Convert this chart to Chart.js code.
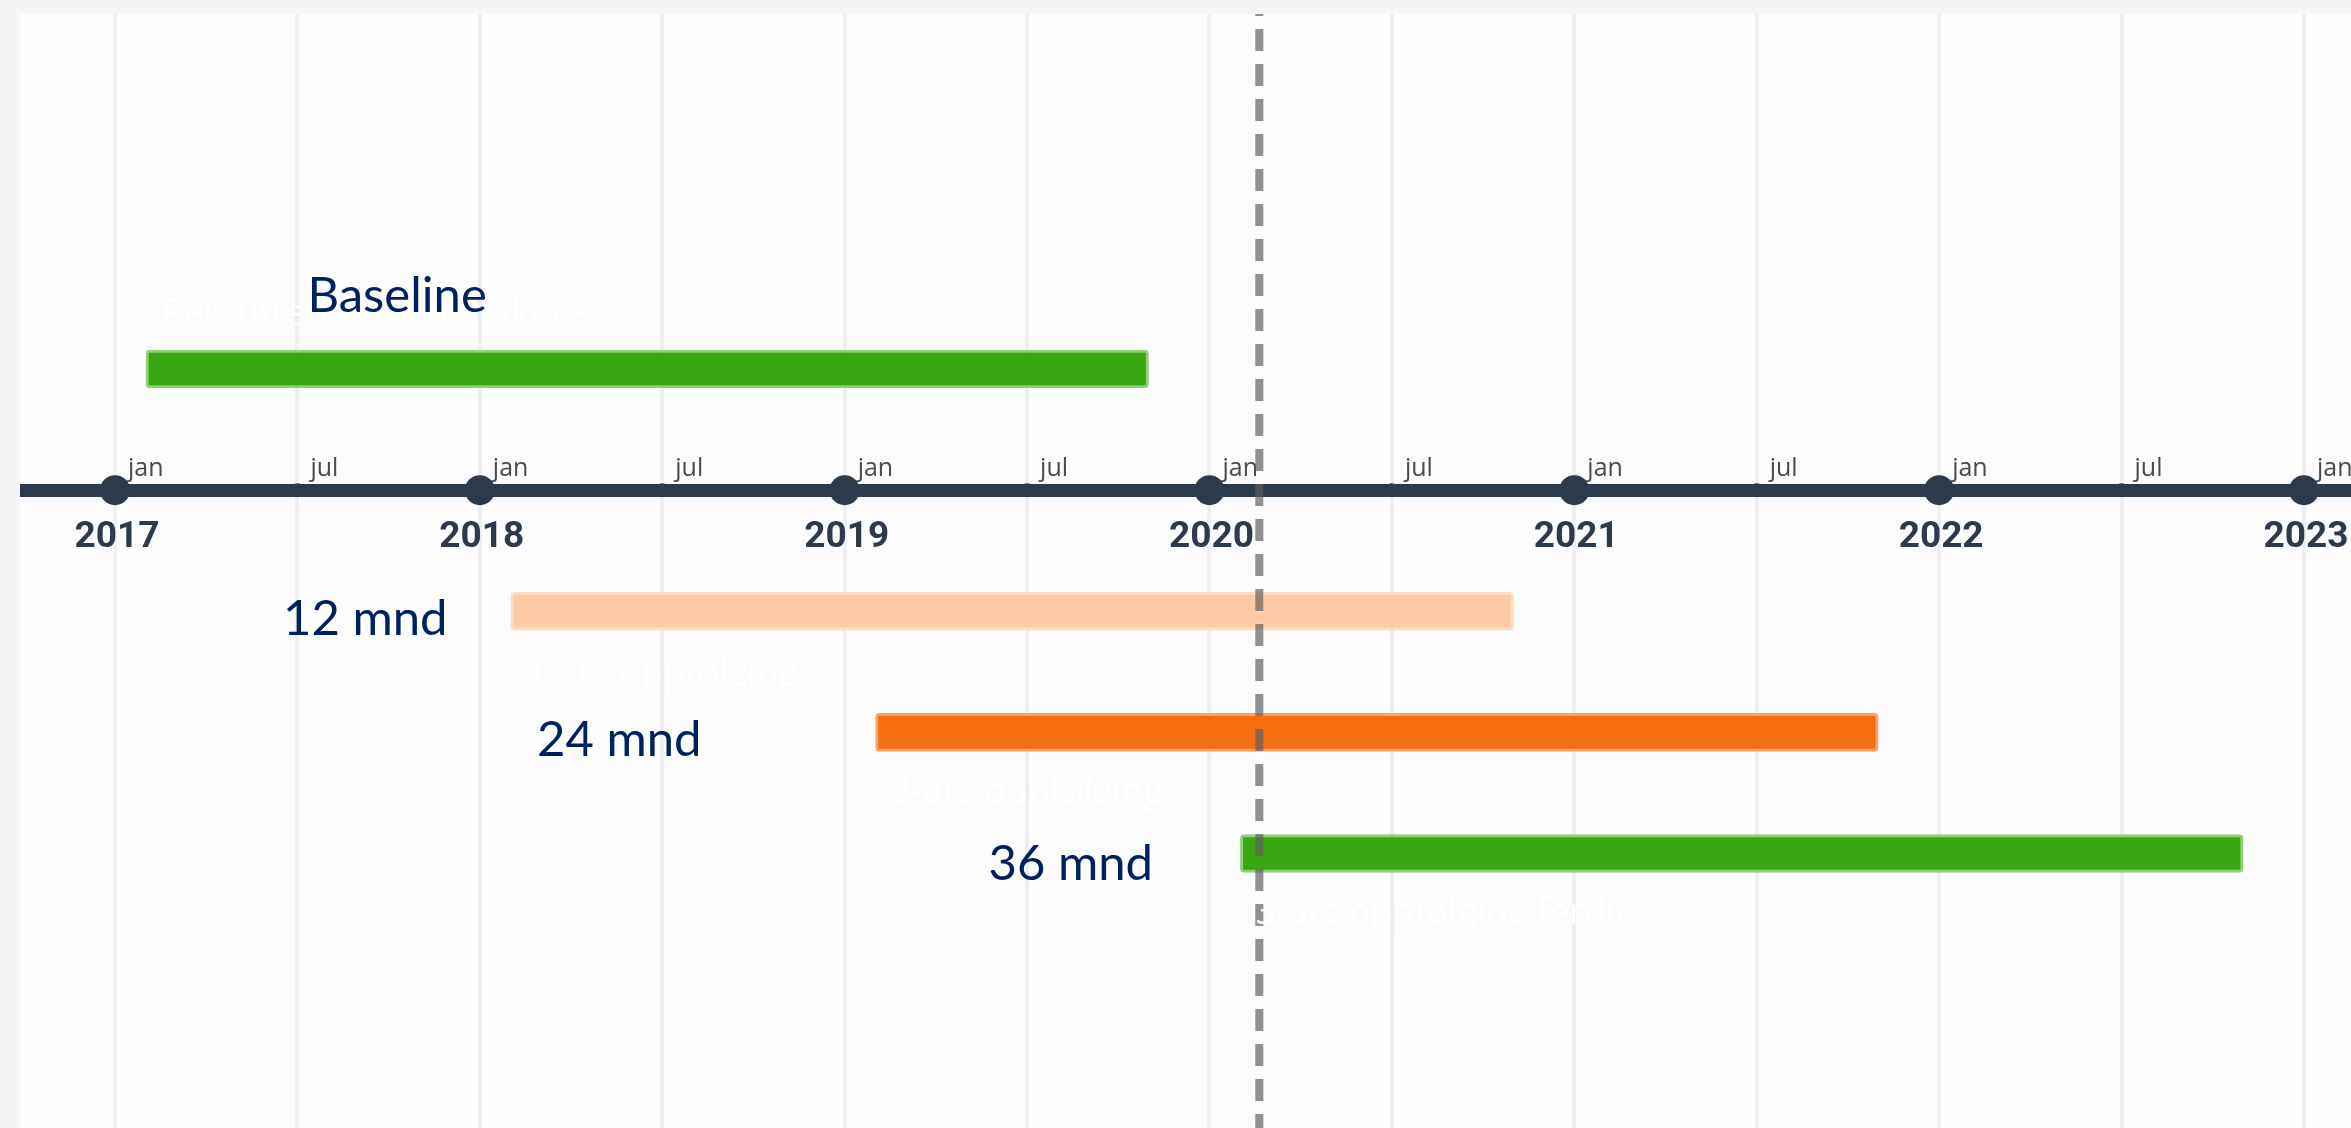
<!DOCTYPE html>
<html>
<head>
<meta charset="utf-8">
<script src="https://cdn.jsdelivr.net/npm/chart.js@4"></script>
<style>
  html, body { margin: 0; padding: 0; background: #f4f5f7; width: 2351px; height: 1128px; overflow: hidden; }
  #wrap { position: absolute; left: 20px; top: 14px; width: 2331px; height: 1114px; background: #fcfcfc; }
</style>
</head>
<body>
<div id="wrap"><canvas id="c"></canvas></div>
<script>
// ---------- data ----------
const taskNames  = ['Rekruttering av deltakere', '1-års oppfølging', '2-års oppfølging', '3-års oppfølging ferdig'];
const taskStart  = ['2017-02-01', '2018-02-01', '2019-02-01', '2020-02-01'];
const taskEnd    = ['2019-11-01', '2020-11-01', '2021-11-01', '2022-11-01'];
const taskRows   = [1, 3, 4, 5];
const markerDate = '2020-02-20';
const yearTicks  = [2017, 2018, 2019, 2020, 2021, 2022, 2023];
const monthTickLabels = ['jan', 'jul'];
const overlayTexts = ['Baseline', '12 mnd', '24 mnd', '36 mnd'];

// ---------- layout / style ----------
const X_MIN = 2016.7396, X_MAX = 2023.1289;
const Y_MIN = -1.9309, Y_MAX = 7.2662;
const AXIS_ROW = 2;
const barColors  = ['rgba(42,160,0,0.93)', 'rgba(255,199,157,0.93)', 'rgba(245,99,0,0.93)', 'rgba(42,160,0,0.93)'];
const barBorders = ['#8fd078', '#ffdcc4', '#f9a465', '#8fd078'];
const overlayPos = [
  {x: 2017.5276, y: 0.5294},
  {x: 2017.4605, y: 3.1960},
  {x: 2018.1567, y: 4.1909},
  {x: 2019.3943, y: 5.2187}
];
const labelDy = [-54, 63, 60, 60];

function toYear(s) {
  const [y, m, d] = s.split('-').map(Number);
  const t0 = Date.UTC(y, 0, 1), t1 = Date.UTC(y + 1, 0, 1);
  return y + (Date.UTC(y, m - 1, d) - t0) / (t1 - t0);
}

const tickValues = [];
yearTicks.forEach((y, i) => { tickValues.push(y); if (i < yearTicks.length - 1) tickValues.push(y + 0.5); });
const setTicks = s => { s.ticks = tickValues.map(v => ({value: v})); };
const noPad = s => { s.paddingLeft = 0; s.paddingRight = 0; s.paddingTop = 0; s.paddingBottom = 0; };

const textPlugin = {
  id: 'timelineText',
  afterDatasetsDraw(chart) {
    const {ctx, scales: {x, y}} = chart;
    ctx.save();
    // white item labels
    ctx.font = '36px "Open Sans"';
    ctx.fillStyle = '#ffffff';
    ctx.textAlign = 'left';
    ctx.textBaseline = 'middle';
    taskNames.forEach((t, i) => {
      ctx.fillText(t, x.getPixelForValue(toYear(taskStart[i])) + 15, y.getPixelForValue(taskRows[i]) + labelDy[i]);
    });
    // navy overlay labels
    ctx.font = '49px Lato';
    ctx.fillStyle = '#002060';
    ctx.textBaseline = 'alphabetic';
    overlayTexts.forEach((t, i) => {
      ctx.fillText(t, x.getPixelForValue(overlayPos[i].x), y.getPixelForValue(overlayPos[i].y));
    });
    ctx.restore();
  }
};

new Chart(document.getElementById('c'), {
  type: 'bar',
  data: {
    datasets: [
      {
        type: 'line',
        label: 'marker',
        data: [{x: toYear(markerDate), y: Y_MIN}, {x: toYear(markerDate), y: Y_MAX}],
        borderColor: 'rgba(95,95,95,0.68)',
        borderWidth: 8,
        borderDash: [22, 13],
        borderDashOffset: 20,
        pointRadius: 0,
        order: 0
      },
      {
        type: 'line',
        label: 'axisDots',
        data: tickValues.map(v => ({x: v, y: AXIS_ROW})),
        showLine: false,
        pointRadius: ctx => Number.isInteger(ctx.raw.x) ? 15 : 7,
        pointBackgroundColor: '#2d3a4b',
        pointBorderWidth: 0,
        order: 1
      },
      {
        label: 'tasks',
        data: taskStart.map((s, i) => ({x: [toYear(s), toYear(taskEnd[i])], y: taskRows[i]})),
        backgroundColor: barColors,
        borderColor: barBorders,
        borderWidth: 3,
        borderRadius: 4,
        borderSkipped: false,
        barThickness: 38,
        order: 2
      }
    ]
  },
  options: {
    indexAxis: 'y',
    responsive: true,
    maintainAspectRatio: false,
    animation: false,
    layout: { padding: 0, autoPadding: false },
    plugins: { legend: { display: false }, tooltip: { enabled: false } },
    scales: {
      y: { type: 'linear', reverse: true, min: Y_MIN, max: Y_MAX, offset: false, display: false, grid: { offset: false } },
      x: {
        type: 'linear', min: X_MIN, max: X_MAX, bounds: 'data', offset: false,
        position: { y: AXIS_ROW },
        afterBuildTicks: setTicks,
        afterFit: noPad,
        grid: { color: '#efefef', lineWidth: 4, drawTicks: false },
        border: { display: true, color: '#2d3a4b', width: 13 },
        ticks: {
          autoSkip: false, maxRotation: 0, minRotation: 0,
          padding: 25, labelOffset: 2,
          color: '#2d3a4b',
          font: { family: 'Roboto', weight: 'bold', size: 37 },
          callback: v => Number.isInteger(v) ? String(v) : ''
        }
      },
      x2: {
        type: 'linear', axis: 'x', min: X_MIN, max: X_MAX, bounds: 'data', offset: false,
        position: { y: AXIS_ROW },
        afterBuildTicks: setTicks,
        afterFit: noPad,
        grid: { display: false, drawTicks: false },
        border: { display: false },
        ticks: {
          autoSkip: false, maxRotation: 0, minRotation: 0,
          align: 'start', padding: -36, labelOffset: 13,
          color: '#4a4a4a',
          font: { family: 'Open Sans', size: 25 },
          callback: v => Number.isInteger(v) ? monthTickLabels[0] : monthTickLabels[1]
        }
      }
    }
  },
  plugins: [textPlugin]
});
</script>
</body>
</html>
